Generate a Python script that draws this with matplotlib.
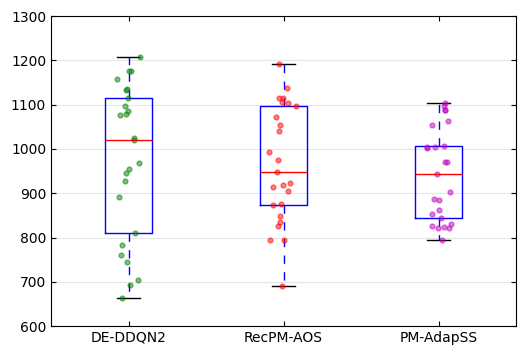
import numpy as np
import matplotlib
matplotlib.use('Agg')
import matplotlib.pyplot as plt

labels = ['DE-DDQN2', 'RecPM-AOS', 'PM-AdapSS']

de_ddqn2 = [1208, 1176, 1176, 1158, 1135, 1132, 1115, 1097, 1085, 1079, 1076,
            1025, 1020, 968, 955, 945, 927, 891, 810, 782, 760, 744, 704, 692, 663]
recpm_aos = [1191, 1137, 1116, 1114, 1107, 1103, 1096, 1071, 1055, 1040, 992,
             974, 947, 924, 918, 915, 904, 875, 873, 848, 835, 826, 794, 794, 690]
pm_adapss = [1103, 1097, 1087, 1087, 1063, 1053, 1006, 1005, 1004, 1001, 970,
             970, 943, 902, 888, 884, 863, 852, 845, 830, 826, 824, 822, 821, 794]

data = [de_ddqn2, recpm_aos, pm_adapss]
point_colors = ['g', 'r', 'm']

fig = plt.figure(figsize=(5.26, 3.56), dpi=100)
ax = fig.add_axes([0.097, 0.084, 0.884, 0.871])

bp = ax.boxplot(data, widths=0.3, showfliers=False, whis=1.5)
for b in bp['boxes']:
    b.set_color('blue')
for w in bp['whiskers']:
    w.set_color('blue')
    w.set_linestyle((0, (6, 6)))
for c in bp['caps']:
    c.set_color('black')
for m in bp['medians']:
    m.set_color('red')

# jittered points
np.random.seed(3)
for i, vals in enumerate(data):
    x = np.random.normal(i + 1, 0.04, size=len(vals))
    ax.plot(x, vals, '.', color=point_colors[i], alpha=0.5, markersize=7)

ax.set_xlim(0.5, 3.5)
ax.set_ylim(600, 1300)
ax.set_xticks([1, 2, 3])
ax.set_xticklabels(labels)
ax.yaxis.grid(True, color='#e6e6e6', linestyle='-')
ax.set_axisbelow(True)
ax.tick_params(direction='in', top=True, right=True, labelsize=10)

fig.savefig('out.png', dpi=100)
